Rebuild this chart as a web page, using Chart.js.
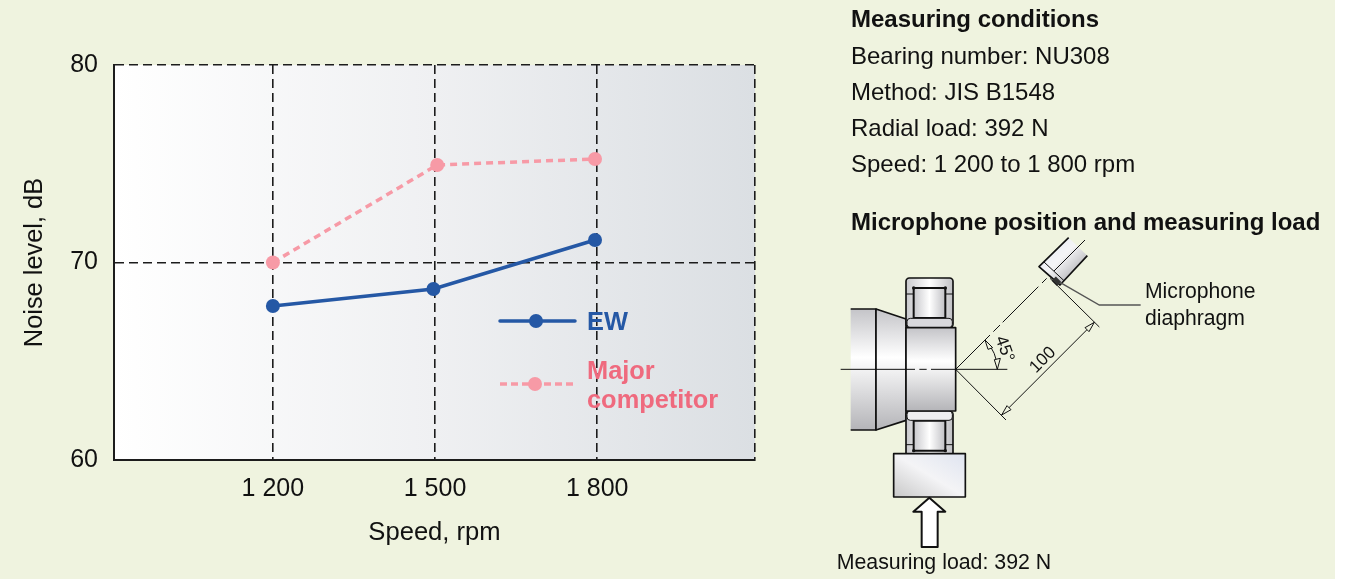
<!DOCTYPE html>
<html><head><meta charset="utf-8">
<script src="https://cdn.jsdelivr.net/npm/chart.js@4"></script>
<style>
html,body{margin:0;padding:0;background:#fff;overflow:hidden}
#wrap{position:relative;width:1350px;height:579px;font-family:"Liberation Sans",Arial,sans-serif;color:#111}
#bg{position:absolute;left:0;top:0;width:1335px;height:579px;background:#eff3df}
canvas{position:absolute;left:0;top:0}
.t{position:absolute;white-space:nowrap;font-size:24px;line-height:28px}
.b{font-weight:bold}
svg{position:absolute;left:830px;top:225px}
svg text{font-family:"Liberation Sans",Arial,sans-serif}
</style></head><body>
<div id="wrap">
<div id="bg"></div>
<canvas id="c" width="1350" height="579"></canvas>
<div class="t b" style="left:851px;top:5px">Measuring conditions</div>
<div class="t" style="left:851px;top:42px">Bearing number: NU308</div>
<div class="t" style="left:851px;top:78px">Method: JIS B1548</div>
<div class="t" style="left:851px;top:114px">Radial load: 392 N</div>
<div class="t" style="left:851px;top:150px">Speed: 1 200 to 1 800 rpm</div>
<div class="t b" style="left:851px;top:208px">Microphone position and measuring load</div>
<svg width="440" height="354" viewBox="0 0 1320 1062">
<defs>
<linearGradient id="v" x1="0" y1="0" x2="0" y2="1"><stop offset="0" stop-color="#c4c4c8"/><stop offset=".4" stop-color="#fff"/><stop offset="1" stop-color="#b4b4b8"/></linearGradient>
<linearGradient id="h" x1="0" y1="0" x2="1" y2="0"><stop offset="0" stop-color="#c8c8cc"/><stop offset=".5" stop-color="#fff"/><stop offset="1" stop-color="#c0c0c4"/></linearGradient>
<linearGradient id="d" x1="0" y1="1" x2="1" y2="0"><stop offset="0" stop-color="#c8c8c8"/><stop offset=".5" stop-color="#f4f4f6"/><stop offset="1" stop-color="#dfe4f0"/></linearGradient>
<linearGradient id="m" x1="0" y1="0" x2="1" y2="1"><stop offset="0" stop-color="#e4e9f6"/><stop offset=".45" stop-color="#f4f4f6"/><stop offset="1" stop-color="#909094"/></linearGradient>
</defs>
<g stroke="#111" stroke-width="5" stroke-linejoin="round">
<rect x="62" y="252" width="76" height="363" fill="url(#v)" stroke="none"/>
<path d="M62 252H138V615H62" fill="none"/>
<path d="M138 252L228 282V586L138 615Z" fill="url(#v)"/>
<rect x="228" y="159" width="141" height="149" rx="10" fill="url(#h)"/>
<rect x="228" y="558" width="141" height="149" rx="10" fill="url(#h)"/>
<path d="M228 207H369M228 659H369" fill="none" stroke-width="3"/>
<rect x="251" y="189" width="95" height="90" fill="url(#h)" stroke-width="6"/>
<rect x="251" y="587" width="95" height="90" fill="url(#h)" stroke-width="6"/>
<rect x="231" y="280" width="136" height="28" rx="10" fill="#d8d8dc" stroke-width="3"/>
<rect x="231" y="558" width="136" height="28" rx="10" fill="#eeeef0" stroke-width="3"/>
<rect x="228" y="308" width="149" height="250" fill="url(#v)"/>
<rect x="191" y="686" width="215" height="130" fill="url(#d)"/>
<path d="M298 818L346 860H323V966H275V860H250Z" fill="#fff" stroke-width="6"/>
<path d="M627 125L716 38L772 92L690 180Z" fill="url(#m)" stroke="none"/>
<path d="M716 38L627 125L690 180L772 92" fill="none" stroke-width="5"/>
<path d="M642 111L702 167" fill="none" stroke-width="3"/>
</g>
<g fill="#111">
<circle cx="251" cy="189" r="5"/><circle cx="346" cy="189" r="5"/>
<circle cx="251" cy="677" r="5"/><circle cx="346" cy="677" r="5"/>
</g>
<rect x="668" y="160" width="22" height="18" fill="#333" transform="rotate(45 679 169)"/>
<g fill="none" stroke="#111" stroke-width="3">
<path d="M32 433H255M268 433H290M303 433H532"/>
<path d="M377 433L480 330M490 320L510 300M518 292L625 185M636 174L650 160"/>
<path d="M672 138L765 45"/>
<path d="M660 160L808 306"/>
<path d="M377 433L528 585"/>
<path d="M515 570L793 292"/>
<path d="M465 345A125 125 0 0 1 502 433"/>
<path d="M793 292L765 308L777 320ZM515 570L543 554L531 542Z" fill="#eff3df"/>
<path d="M465 345L488 368L474 373ZM502 433L511 400L493 404Z" fill="#eff3df"/>
</g>
<path d="M690 172L808 240H932" fill="none" stroke="#555" stroke-width="4"/>
<text x="945" y="218" font-size="63.5" fill="#111">Microphone</text>
<text x="945" y="299" font-size="63.5" fill="#111">diaphragm</text>
<text x="20" y="1033" font-size="64" fill="#111">Measuring load: 392 N</text>
<text transform="translate(496 340) rotate(70)" font-size="52" fill="#111">45°</text>
<text transform="translate(618 446) rotate(-45)" font-size="52" fill="#111">100</text>
</svg>
</div>
<script>
const speeds = [1200, 1500, 1800];
const tickLabels = ['1 200', '1 500', '1 800'];
const ewSpeeds = [1200, 1497, 1796];
const ewNoise = [67.8, 68.66, 71.14];
const competitorSpeeds = [1200, 1504, 1796];
const competitorNoise = [70.0, 74.94, 75.24];
const yTicks = [60, 70, 80];
const xMin = 906, xMax = 2092;
const legendNames = [['EW'], ['Major', 'competitor']];
const BLUE = '#2558a5', PINK = '#f79aa6', PINKTXT = '#ef6a7e', GRID = '#1c1c1c';
const FONT = '"Liberation Sans", Arial, sans-serif';
const toPts = (xs, ys) => xs.map((x, i) => ({x, y: ys[i]}));

const plotBg = {
  id: 'plotBg',
  beforeDraw(ch) {
    const {ctx, chartArea: a} = ch;
    const g = ctx.createLinearGradient(a.left, 0, a.right, 0);
    g.addColorStop(0, '#ffffff');
    g.addColorStop(0.5, '#eff0f2');
    g.addColorStop(1, '#dbdfe3');
    ctx.save(); ctx.fillStyle = g;
    ctx.fillRect(a.left, a.top, a.right - a.left, a.bottom - a.top);
    ctx.restore();
  }
};
const legendDraw = {
  id: 'legendDraw',
  afterDatasetsDraw(ch) {
    const ctx = ch.ctx;
    ctx.save();
    ctx.lineCap = 'round';
    ctx.strokeStyle = BLUE; ctx.lineWidth = 3.5;
    ctx.beginPath(); ctx.moveTo(500, 321); ctx.lineTo(575, 321); ctx.stroke();
    ctx.fillStyle = BLUE;
    ctx.beginPath(); ctx.arc(536, 321, 7, 0, 7); ctx.fill();
    ctx.lineCap = 'butt';
    ctx.strokeStyle = PINK; ctx.lineWidth = 3.5; ctx.setLineDash([7, 4]);
    ctx.beginPath(); ctx.moveTo(500, 384); ctx.lineTo(575, 384); ctx.stroke();
    ctx.setLineDash([]);
    ctx.fillStyle = PINK;
    ctx.beginPath(); ctx.arc(535, 384, 7, 0, 7); ctx.fill();
    ctx.font = 'bold 25.4px ' + FONT;
    ctx.textBaseline = 'middle';
    ctx.fillStyle = BLUE; ctx.fillText(legendNames[0][0], 587, 323);
    ctx.fillStyle = PINKTXT;
    ctx.fillText(legendNames[1][0], 587, 372);
    ctx.fillText(legendNames[1][1], 587, 401);
    ctx.restore();
  }
};

new Chart(document.getElementById('c'), {
  type: 'line',
  data: {
    datasets: [
      {label: 'Major competitor', data: toPts(competitorSpeeds, competitorNoise), borderColor: PINK, backgroundColor: PINK,
       pointBackgroundColor: PINK, pointBorderWidth: 0, pointRadius: 7, borderWidth: 3.5, borderDash: [7, 5], tension: 0},
      {label: 'EW', data: toPts(ewSpeeds, ewNoise), borderColor: BLUE, backgroundColor: BLUE,
       pointBackgroundColor: BLUE, pointBorderWidth: 0, pointRadius: 7, borderWidth: 3.5, tension: 0}
    ]
  },
  options: {
    responsive: false, animation: false, devicePixelRatio: 1,
    layout: {padding: {top: 65, right: 595, left: 0, bottom: 0}},
    plugins: {legend: {display: false}, tooltip: {enabled: false}},
    scales: {
      x: {
        type: 'linear', min: xMin, max: xMax,
        afterBuildTicks(s) { s.ticks = [xMin, ...speeds, xMax].map(v => ({value: v})); },
        afterFit(s) { s.height = 119; },
        ticks: {
          autoSkip: false, maxRotation: 0, padding: 14, color: '#111',
          font: {size: 25, family: FONT},
          callback(v) { const i = speeds.indexOf(v); return i < 0 ? '' : tickLabels[i]; }
        },
        grid: {color: GRID, lineWidth: 1.6, drawTicks: false},
        border: {display: true, color: GRID, width: 2, dash: [9, 5]},
        title: {display: true, text: 'Speed, rpm', color: '#111', font: {size: 25.6, family: FONT}, padding: {top: 0, bottom: 31}}
      },
      y: {
        min: 60, max: 80,
        afterBuildTicks(s) { s.ticks = yTicks.map(v => ({value: v})); },
        afterFit(s) { s.width = 114; },
        ticks: {padding: 16, color: '#111', font: {size: 25, family: FONT}},
        grid: {color: GRID, lineWidth: 1.6, drawTicks: false},
        border: {display: true, color: GRID, width: 2, dash: [9, 5]},
        title: {display: true, text: 'Noise level, dB', color: '#111', font: {size: 25.4, family: FONT}, padding: {top: 20, bottom: 0}}
      }
    }
  },
  plugins: [plotBg, legendDraw]
});
</script>
</body></html>
